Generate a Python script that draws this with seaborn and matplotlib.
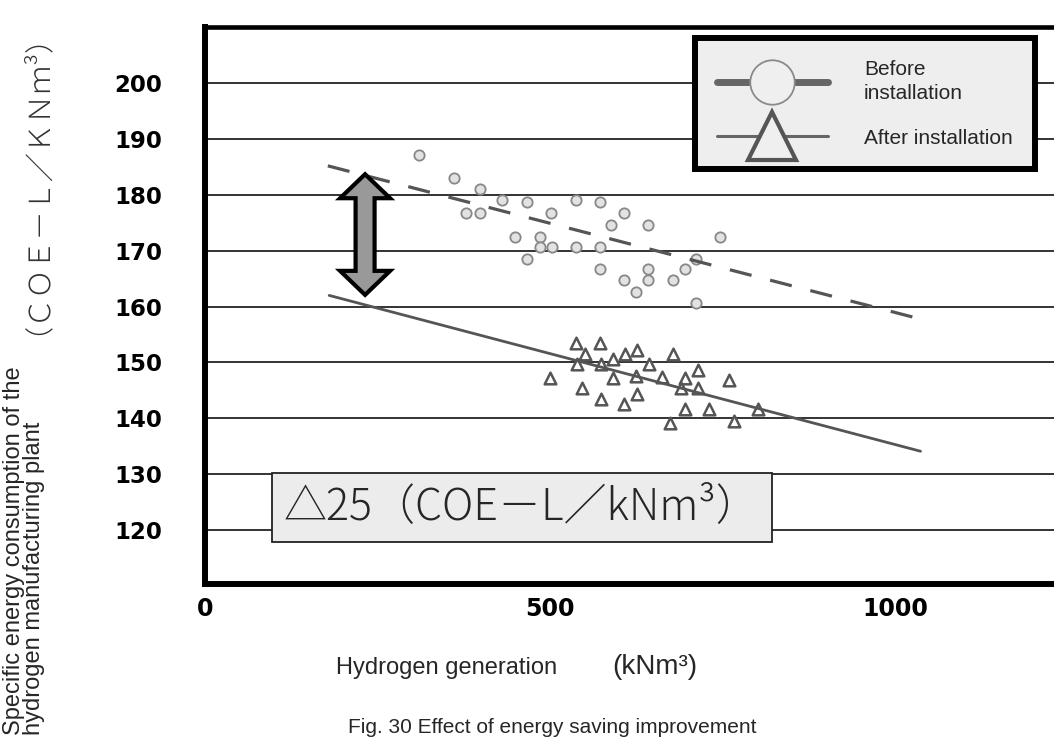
import numpy as np
import seaborn as sns
import matplotlib.pyplot as plt
from matplotlib.lines import Line2D
from matplotlib.patches import Polygon

# scatter (x: kNm3, y: COE-L/kNm3)
before_x = [310, 361, 398, 431, 466, 537, 572, 378, 399, 501, 607, 588, 642, 449, 485,
            747, 485, 503, 537, 572, 466, 712, 572, 642, 695, 607, 642, 678, 625, 712]
before_y = [187.1, 183.1, 181.0, 179.1, 178.7, 179.1, 178.7, 176.7, 176.7, 176.7, 176.7, 174.6,
            174.6, 172.5, 172.5, 172.5, 170.6, 170.6, 170.6, 170.6, 168.6, 168.6, 166.7, 166.7,
            166.7, 164.8, 164.8, 164.8, 162.7, 160.6]
after_x = [538, 573, 551, 608, 626, 678, 592, 539, 574, 643, 714, 500, 591, 625, 662, 695,
           760, 546, 690, 714, 626, 574, 607, 696, 731, 801, 674, 766]
after_y = [153.5, 153.5, 151.5, 151.6, 152.2, 151.6, 150.6, 149.7, 149.7, 149.7, 148.6, 147.2,
           147.3, 147.6, 147.4, 147.3, 146.9, 145.4, 145.4, 145.4, 144.4, 143.4, 142.6, 141.6,
           141.6, 141.6, 139.1, 139.6]

# trend lines (end points)
before_fit_x = [178, 1036]
before_fit_y = [185.2, 157.8]
after_fit_x = [180, 1037]
after_fit_y = [162.0, 134.1]

# gap arrow
arrow_x = 232
arrow_y = [183.7, 162.1]

y_ticks = [120, 130, 140, 150, 160, 170, 180, 190, 200]
x_labels = [0, 500, 1000]
legend_labels = ['Before\ninstallation', 'After installation']
delta_text = '△25（COE－L／kNm³）'

sns.set_style('white')
plt.rcParams['font.family'] = ['Liberation Sans', 'DejaVu Sans']

W, H = 1054, 738
fig = plt.figure(figsize=(W / 100, H / 100), dpi=100)
ax = fig.add_axes([205 / W, (H - 584) / H, 862.5 / W, 557.5 / H])
ax.set_xlim(0, 1250)
ax.set_ylim(110.33, 210.15)

sns.lineplot(x=before_fit_x, y=before_fit_y, color='#555555', lw=2.3,
             linestyle=(0, (7, 6)), ax=ax, zorder=4)
sns.lineplot(x=after_fit_x, y=after_fit_y, color='#555555', lw=2.0, ax=ax, zorder=4)
sns.scatterplot(x=before_x, y=before_y, marker='o', s=55, color='#e2e2e2',
                edgecolor='#888888', linewidth=1.3, ax=ax, zorder=3)
sns.scatterplot(x=after_x, y=after_y, marker='^', s=70, color='white',
                edgecolor='#555555', linewidth=1.8, ax=ax, zorder=3)

# axes / ticks
major_x = np.arange(0, 1251, 250)
ax.set_xticks(major_x, [str(v) if v in x_labels else '' for v in major_x],
              fontweight='bold', family='DejaVu Sans', fontsize=17)
ax.set_xticks(np.arange(0, 1251, 50), minor=True)
ax.set_yticks(y_ticks, [str(v) for v in y_ticks],
              fontweight='bold', family='DejaVu Sans', fontsize=16.5)
ax.tick_params(axis='x', which='major', direction='in', length=14, width=1.1,
               pad=9, colors='black')
ax.tick_params(axis='x', which='minor', direction='in', length=6, width=1.9, colors='black')
ax.tick_params(axis='y', length=0, pad=31, colors='black')
ax.grid(axis='y', color='#111111', lw=1.2)
ax.set_axisbelow(True)
for s in ['left', 'bottom']:
    ax.spines[s].set_linewidth(4.3)
    ax.spines[s].set_color('black')
ax.spines['top'].set_linewidth(3.3)
ax.spines['top'].set_color('black')
ax.spines['right'].set_visible(False)
ax.set_xlabel('')
ax.set_ylabel('')

# legend
handles = [Line2D([], [], color='#666666', lw=5, marker='o', ms=32, mfc='#efefef',
                  mec='#8a8a8a', mew=1.3),
           Line2D([], [], color='#666666', lw=2.2, marker='^', ms=35, mfc='#efefef',
                  mec='#555555', mew=3)]
leg = ax.legend(handles, legend_labels, loc='upper right', bbox_to_anchor=(0.962, 0.979),
                borderaxespad=0, fontsize=15, handlelength=5.3, handletextpad=1.75,
                labelspacing=1.25, borderpad=1.05, frameon=True, fancybox=False,
                framealpha=1, facecolor='#eeeeee', edgecolor='black')
leg.get_frame().set_linewidth(4.3)
for t in leg.get_texts():
    t.set_linespacing(1.3)
leg.set_zorder(7)

# delta box
ax.text(459, 124, delta_text, ha='center', va='center', fontsize=31,
        family=['Noto Sans CJK JP', 'DejaVu Sans'], fontweight='light',
        bbox=dict(boxstyle='square,pad=0.28', fc='#ececec', ec='#222222', lw=1.3), zorder=5)

# double arrow between the two trends
top = ax.transData.transform((arrow_x, arrow_y[0]))
bot = ax.transData.transform((arrow_x, arrow_y[1]))
cx, yt, yb = top[0], top[1], bot[1]
shaft, head, hl = 9.5, 25, 24
verts = [(cx, yt), (cx + head, yt - hl), (cx + shaft, yt - hl), (cx + shaft, yb + hl),
         (cx + head, yb + hl), (cx, yb), (cx - head, yb + hl), (cx - shaft, yb + hl),
         (cx - shaft, yt - hl), (cx - head, yt - hl)]
ax.add_patch(Polygon(ax.transData.inverted().transform(verts), closed=True, fc='#999999',
                     ec='black', lw=3, joinstyle='miter', zorder=6))

# labels
fig.text(336 / W, (H - 668) / H, 'Hydrogen generation', fontsize=17, va='center')
fig.text(612 / W, (H - 667) / H, '(kNm³)', fontsize=20, va='center')
fig.text(24 / W, 3 / H, 'Specific energy consumption of the\nhydrogen manufacturing plant',
         rotation=90, ha='center', va='bottom', fontsize=17, linespacing=0.85,
         multialignment='left')
fig.text(21 / W, (H - 335) / H, '（ＣＯＥ－Ｌ／ＫＮｍ³）', rotation=90, ha='center', va='bottom',
         fontsize=21, family=['Noto Sans CJK JP', 'DejaVu Sans'], fontweight='light',
         color='#333333')
fig.text(348 / W, (H - 733) / H, 'Fig. 30 Effect of energy saving improvement',
         fontsize=15, va='baseline', ha='left')

fig.savefig('out.png', dpi=100)
